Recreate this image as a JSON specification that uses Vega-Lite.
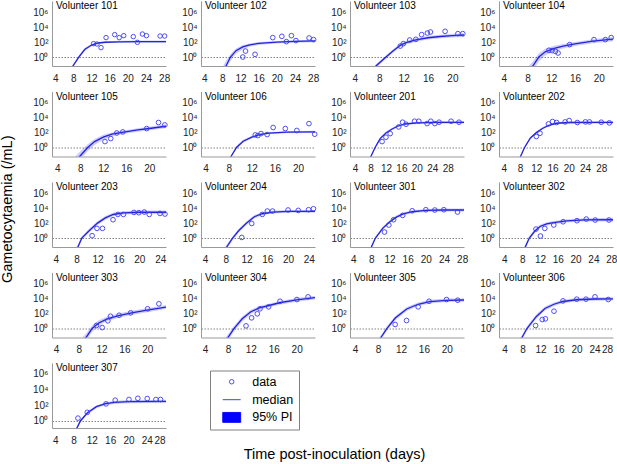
{
  "$schema": "https://vega.github.io/schema/vega-lite/v6.json",
  "padding": {"left": 0, "top": 1, "right": 2, "bottom": 1},
  "background": "white",
  "title": {"text": "Gametocytaemia (/mL)", "orient": "left", "anchor": "middle", "frame": "bounds", "fontSize": 14.5, "fontWeight": "normal", "color": "black", "offset": 17, "dx": 21.5},
  "datasets": {
    "gam": [
      {"vol":101,"day":12.45,"obs":1.79},{"vol":101,"day":13.2,"obs":1.74},{"vol":101,"day":14.1,"obs":1.26},{"vol":101,"day":15.2,"obs":2.6},{"vol":101,"day":17.1,"obs":3.0},{"vol":101,"day":18.1,"obs":2.6},{"vol":101,"day":19.1,"obs":2.86},{"vol":101,"day":21.2,"obs":2.73},{"vol":101,"day":22.1,"obs":1.97},{"vol":101,"day":23.2,"obs":3.08},{"vol":101,"day":24.1,"obs":2.86},{"vol":101,"day":27.1,"obs":2.81},{"vol":101,"day":28.1,"obs":2.81},
      {"vol":101,"day":7.3,"med":-1.75,"lo":-1.95,"hi":-1.55},{"vol":101,"day":7.9,"med":-1.2,"lo":-1.4,"hi":-1.0},{"vol":101,"day":9.2,"med":0,"lo":-0.2,"hi":0.2},{"vol":101,"day":10.5,"med":1.0,"lo":0.8,"hi":1.2},{"vol":101,"day":12,"med":1.6,"lo":1.45,"hi":1.75},{"vol":101,"day":13.5,"med":1.88,"lo":1.75,"hi":2.0},{"vol":101,"day":15,"med":1.98,"lo":1.85,"hi":2.12},{"vol":101,"day":18,"med":2.04,"lo":1.9,"hi":2.18},{"vol":101,"day":22,"med":2.06,"lo":1.92,"hi":2.2},{"vol":101,"day":28.4,"med":2.06,"lo":1.92,"hi":2.2},

      {"vol":102,"day":12.5,"obs":0.0},{"vol":102,"day":13.1,"obs":0.8},{"vol":102,"day":15.2,"obs":0.36},{"vol":102,"day":19.1,"obs":2.6},{"vol":102,"day":21.1,"obs":2.77},{"vol":102,"day":22.1,"obs":2.06},{"vol":102,"day":23.2,"obs":2.86},{"vol":102,"day":24.2,"obs":2.2},{"vol":102,"day":27.1,"obs":2.55},{"vol":102,"day":28.1,"obs":2.33},
      {"vol":102,"day":7.8,"med":-2.4,"lo":-2.9,"hi":-1.6},{"vol":102,"day":8.8,"med":-1.2,"lo":-1.6,"hi":-0.5},{"vol":102,"day":9.8,"med":0,"lo":-0.5,"hi":0.4},{"vol":102,"day":11,"med":0.85,"lo":0.45,"hi":1.15},{"vol":102,"day":12.5,"med":1.35,"lo":1.05,"hi":1.6},{"vol":102,"day":14,"med":1.62,"lo":1.38,"hi":1.82},{"vol":102,"day":16,"med":1.82,"lo":1.62,"hi":2.0},{"vol":102,"day":20,"med":2.0,"lo":1.82,"hi":2.15},{"vol":102,"day":24,"med":2.1,"lo":1.92,"hi":2.25},{"vol":102,"day":28.4,"med":2.15,"lo":1.97,"hi":2.32},

      {"vol":103,"day":11.45,"obs":1.47},{"vol":103,"day":11.95,"obs":1.79},{"vol":103,"day":13.0,"obs":2.28},{"vol":103,"day":14.0,"obs":2.37},{"vol":103,"day":14.95,"obs":3.0},{"vol":103,"day":15.9,"obs":3.21},{"vol":103,"day":16.4,"obs":3.35},{"vol":103,"day":18.8,"obs":3.44},{"vol":103,"day":20.9,"obs":3.13},{"vol":103,"day":21.7,"obs":3.13},
      {"vol":103,"day":6.8,"med":-2.1,"lo":-2.4,"hi":-1.8},{"vol":103,"day":7.45,"med":-1.2,"lo":-1.45,"hi":-0.95},{"vol":103,"day":9.1,"med":0,"lo":-0.25,"hi":0.22},{"vol":103,"day":10.3,"med":0.85,"lo":0.6,"hi":1.08},{"vol":103,"day":11.5,"med":1.6,"lo":1.35,"hi":1.82},{"vol":103,"day":12.5,"med":1.95,"lo":1.7,"hi":2.17},{"vol":103,"day":14,"med":2.3,"lo":2.05,"hi":2.52},{"vol":103,"day":16,"med":2.58,"lo":2.35,"hi":2.8},{"vol":103,"day":18,"med":2.75,"lo":2.52,"hi":2.98},{"vol":103,"day":20,"med":2.87,"lo":2.63,"hi":3.1},{"vol":103,"day":22,"med":2.95,"lo":2.7,"hi":3.18},

      {"vol":104,"day":11.6,"obs":0.9},{"vol":104,"day":12.15,"obs":0.86},{"vol":104,"day":12.7,"obs":0.76},{"vol":104,"day":13.15,"obs":0.54},{"vol":104,"day":15.1,"obs":1.66},{"vol":104,"day":19.2,"obs":2.33},{"vol":104,"day":21.1,"obs":2.33},{"vol":104,"day":22.1,"obs":2.6},
      {"vol":104,"day":8.0,"med":-2.2,"lo":-3.0,"hi":-1.4},{"vol":104,"day":8.9,"med":-1.2,"lo":-1.8,"hi":-0.6},{"vol":104,"day":9.9,"med":0,"lo":-0.6,"hi":0.5},{"vol":104,"day":11,"med":0.7,"lo":0.2,"hi":1.1},{"vol":104,"day":12.5,"med":1.15,"lo":0.8,"hi":1.5},{"vol":104,"day":14,"med":1.45,"lo":1.15,"hi":1.75},{"vol":104,"day":16,"med":1.75,"lo":1.48,"hi":2.02},{"vol":104,"day":19,"med":2.12,"lo":1.85,"hi":2.38},{"vol":104,"day":22.4,"med":2.4,"lo":2.12,"hi":2.68},

      {"vol":105,"day":12.3,"obs":0.8},{"vol":105,"day":13.3,"obs":1.2},{"vol":105,"day":14.35,"obs":1.95},{"vol":105,"day":15.4,"obs":2.09},{"vol":105,"day":19.55,"obs":2.54},{"vol":105,"day":21.6,"obs":3.35},{"vol":105,"day":22.7,"obs":3.03},
      {"vol":105,"day":7.0,"med":-2.0,"lo":-2.8,"hi":-1.3},{"vol":105,"day":7.9,"med":-1.2,"lo":-1.7,"hi":-0.6},{"vol":105,"day":9.3,"med":0,"lo":-0.5,"hi":0.45},{"vol":105,"day":10.5,"med":0.8,"lo":0.35,"hi":1.15},{"vol":105,"day":12,"med":1.4,"lo":1.05,"hi":1.7},{"vol":105,"day":13.5,"med":1.78,"lo":1.5,"hi":2.02},{"vol":105,"day":15,"med":2.0,"lo":1.75,"hi":2.22},{"vol":105,"day":18,"med":2.35,"lo":2.1,"hi":2.58},{"vol":105,"day":20,"med":2.55,"lo":2.3,"hi":2.78},{"vol":105,"day":22.9,"med":2.85,"lo":2.58,"hi":3.1},

      {"vol":106,"day":12.6,"obs":1.69},{"vol":106,"day":13.05,"obs":1.6},{"vol":106,"day":13.6,"obs":1.87},{"vol":106,"day":14.65,"obs":1.74},{"vol":106,"day":15.7,"obs":2.68},{"vol":106,"day":17.8,"obs":2.54},{"vol":106,"day":19.8,"obs":2.28},{"vol":106,"day":21.9,"obs":3.2},{"vol":106,"day":22.9,"obs":1.78},
      {"vol":106,"day":7.8,"med":-1.9,"lo":-2.05,"hi":-1.7},{"vol":106,"day":8.4,"med":-1.2,"lo":-1.35,"hi":-1.0},{"vol":106,"day":9.35,"med":0,"lo":-0.2,"hi":0.2},{"vol":106,"day":10.5,"med":0.85,"lo":0.65,"hi":1.05},{"vol":106,"day":12,"med":1.4,"lo":1.22,"hi":1.58},{"vol":106,"day":13.5,"med":1.75,"lo":1.6,"hi":1.9},{"vol":106,"day":15,"med":1.92,"lo":1.78,"hi":2.06},{"vol":106,"day":18,"med":2.05,"lo":1.9,"hi":2.18},{"vol":106,"day":22.95,"med":2.1,"lo":1.95,"hi":2.24},

      {"vol":201,"day":11.0,"obs":0.8},{"vol":201,"day":12.0,"obs":1.38},{"vol":201,"day":13.1,"obs":1.87},{"vol":201,"day":15.3,"obs":2.76},{"vol":201,"day":16.3,"obs":3.39},{"vol":201,"day":17.2,"obs":3.12},{"vol":201,"day":19.4,"obs":3.52},{"vol":201,"day":20.5,"obs":3.52},{"vol":201,"day":22.65,"obs":3.21},{"vol":201,"day":23.6,"obs":3.52},{"vol":201,"day":24.65,"obs":3.21},{"vol":201,"day":25.75,"obs":3.39},{"vol":201,"day":28.85,"obs":3.52},{"vol":201,"day":30.9,"obs":3.39},
      {"vol":201,"day":7.6,"med":-1.8,"lo":-1.95,"hi":-1.65},{"vol":201,"day":8.1,"med":-1.2,"lo":-1.35,"hi":-1.05},{"vol":201,"day":9.2,"med":0,"lo":-0.15,"hi":0.15},{"vol":201,"day":10.5,"med":1.2,"lo":1.05,"hi":1.35},{"vol":201,"day":12,"med":1.95,"lo":1.8,"hi":2.1},{"vol":201,"day":13.5,"med":2.45,"lo":2.3,"hi":2.6},{"vol":201,"day":15,"med":2.85,"lo":2.7,"hi":3.0},{"vol":201,"day":17,"med":3.15,"lo":3.0,"hi":3.3},{"vol":201,"day":20,"med":3.3,"lo":3.15,"hi":3.45},{"vol":201,"day":25,"med":3.36,"lo":3.2,"hi":3.52},{"vol":201,"day":32.2,"med":3.38,"lo":3.22,"hi":3.55},

      {"vol":202,"day":12.0,"obs":1.47},{"vol":202,"day":12.9,"obs":1.91},{"vol":202,"day":15.0,"obs":3.16},{"vol":202,"day":16.0,"obs":3.48},{"vol":202,"day":17.0,"obs":3.35},{"vol":202,"day":19.1,"obs":3.43},{"vol":202,"day":20.1,"obs":3.61},{"vol":202,"day":22.1,"obs":3.35},{"vol":202,"day":24.1,"obs":3.43},{"vol":202,"day":25.1,"obs":3.43},{"vol":202,"day":28.0,"obs":3.39},{"vol":202,"day":30.0,"obs":3.3},
      {"vol":202,"day":7.6,"med":-1.8,"lo":-1.95,"hi":-1.65},{"vol":202,"day":8.1,"med":-1.2,"lo":-1.35,"hi":-1.05},{"vol":202,"day":9.1,"med":0,"lo":-0.15,"hi":0.15},{"vol":202,"day":10.5,"med":1.25,"lo":1.1,"hi":1.4},{"vol":202,"day":12,"med":2.0,"lo":1.85,"hi":2.15},{"vol":202,"day":13.5,"med":2.55,"lo":2.4,"hi":2.7},{"vol":202,"day":15,"med":2.95,"lo":2.8,"hi":3.1},{"vol":202,"day":17,"med":3.25,"lo":3.1,"hi":3.4},{"vol":202,"day":20,"med":3.35,"lo":3.2,"hi":3.5},{"vol":202,"day":25,"med":3.36,"lo":3.2,"hi":3.52},{"vol":202,"day":30.9,"med":3.36,"lo":3.2,"hi":3.52},

      {"vol":203,"day":10.97,"obs":0.31},{"vol":203,"day":11.9,"obs":1.29},{"vol":203,"day":12.95,"obs":1.29},{"vol":203,"day":14.97,"obs":2.45},{"vol":203,"day":15.9,"obs":3.16},{"vol":203,"day":16.95,"obs":3.16},{"vol":203,"day":18.97,"obs":3.43},{"vol":203,"day":19.9,"obs":3.39},{"vol":203,"day":20.95,"obs":3.48},{"vol":203,"day":21.9,"obs":3.16},{"vol":203,"day":23.95,"obs":3.29},{"vol":203,"day":24.9,"obs":3.21},
      {"vol":203,"day":7.5,"med":-2.0,"lo":-2.4,"hi":-1.6},{"vol":203,"day":8.25,"med":-1.2,"lo":-1.5,"hi":-0.9},{"vol":203,"day":9.0,"med":0,"lo":-0.3,"hi":0.25},{"vol":203,"day":10.5,"med":1.05,"lo":0.8,"hi":1.3},{"vol":203,"day":12,"med":2.0,"lo":1.75,"hi":2.25},{"vol":203,"day":13.5,"med":2.7,"lo":2.45,"hi":2.95},{"vol":203,"day":15,"med":3.15,"lo":2.92,"hi":3.38},{"vol":203,"day":17,"med":3.38,"lo":3.15,"hi":3.6},{"vol":203,"day":20,"med":3.45,"lo":3.22,"hi":3.68},{"vol":203,"day":25.1,"med":3.45,"lo":3.2,"hi":3.7},

      {"vol":204,"day":11.07,"obs":0.08},{"vol":204,"day":12.99,"obs":1.95},{"vol":204,"day":15.03,"obs":3.16},{"vol":204,"day":16.0,"obs":3.61},{"vol":204,"day":17.0,"obs":3.61},{"vol":204,"day":20.0,"obs":3.75},{"vol":204,"day":21.97,"obs":3.7},{"vol":204,"day":23.96,"obs":3.79},{"vol":204,"day":24.9,"obs":3.92},
      {"vol":204,"day":7.4,"med":-2.0,"lo":-2.4,"hi":-1.6},{"vol":204,"day":8.15,"med":-1.2,"lo":-1.5,"hi":-0.9},{"vol":204,"day":9.3,"med":0,"lo":-0.3,"hi":0.25},{"vol":204,"day":10.5,"med":1.0,"lo":0.75,"hi":1.25},{"vol":204,"day":12,"med":2.0,"lo":1.75,"hi":2.25},{"vol":204,"day":13.5,"med":2.85,"lo":2.62,"hi":3.08},{"vol":204,"day":15,"med":3.25,"lo":3.05,"hi":3.45},{"vol":204,"day":17,"med":3.48,"lo":3.3,"hi":3.66},{"vol":204,"day":20,"med":3.56,"lo":3.38,"hi":3.74},{"vol":204,"day":25.2,"med":3.58,"lo":3.4,"hi":3.76},

      {"vol":301,"day":10.9,"obs":0.8},{"vol":301,"day":11.85,"obs":1.74},{"vol":301,"day":12.9,"obs":2.45},{"vol":301,"day":14.9,"obs":3.03},{"vol":301,"day":17.0,"obs":3.65},{"vol":301,"day":20.0,"obs":3.79},{"vol":301,"day":21.97,"obs":3.75},{"vol":301,"day":23.96,"obs":3.79},{"vol":301,"day":26.97,"obs":3.48},
      {"vol":301,"day":7.4,"med":-1.9,"lo":-2.1,"hi":-1.7},{"vol":301,"day":8.0,"med":-1.2,"lo":-1.4,"hi":-1.0},{"vol":301,"day":8.9,"med":0,"lo":-0.2,"hi":0.2},{"vol":301,"day":10.5,"med":1.3,"lo":1.1,"hi":1.5},{"vol":301,"day":12,"med":2.15,"lo":1.95,"hi":2.35},{"vol":301,"day":13.5,"med":2.8,"lo":2.6,"hi":3.0},{"vol":301,"day":15,"med":3.22,"lo":3.02,"hi":3.42},{"vol":301,"day":17,"med":3.52,"lo":3.32,"hi":3.72},{"vol":301,"day":20,"med":3.7,"lo":3.5,"hi":3.9},{"vol":301,"day":24,"med":3.75,"lo":3.55,"hi":3.95},{"vol":301,"day":28.4,"med":3.75,"lo":3.55,"hi":3.96},

      {"vol":302,"day":11.1,"obs":1.2},{"vol":302,"day":12.1,"obs":0.27},{"vol":302,"day":13.08,"obs":1.29},{"vol":302,"day":15.1,"obs":1.74},{"vol":302,"day":17.2,"obs":2.18},{"vol":302,"day":20.3,"obs":2.32},{"vol":302,"day":22.4,"obs":2.54},{"vol":302,"day":24.4,"obs":2.41},{"vol":302,"day":27.5,"obs":2.41},
      {"vol":302,"day":8.0,"med":-2.0,"lo":-2.4,"hi":-1.6},{"vol":302,"day":8.7,"med":-1.2,"lo":-1.5,"hi":-0.9},{"vol":302,"day":9.6,"med":0,"lo":-0.3,"hi":0.25},{"vol":302,"day":10.8,"med":0.9,"lo":0.65,"hi":1.15},{"vol":302,"day":12,"med":1.55,"lo":1.3,"hi":1.78},{"vol":302,"day":13.5,"med":1.88,"lo":1.65,"hi":2.1},{"vol":302,"day":15,"med":2.07,"lo":1.85,"hi":2.28},{"vol":302,"day":18,"med":2.3,"lo":2.08,"hi":2.52},{"vol":302,"day":22,"med":2.42,"lo":2.2,"hi":2.65},{"vol":302,"day":28.4,"med":2.45,"lo":2.2,"hi":2.7},

      {"vol":303,"day":11.1,"obs":0.4},{"vol":303,"day":12.1,"obs":0.13},{"vol":303,"day":13.1,"obs":1.03},{"vol":303,"day":13.56,"obs":1.65},{"vol":303,"day":15.07,"obs":1.78},{"vol":303,"day":17.1,"obs":2.1},{"vol":303,"day":20.07,"obs":2.64},{"vol":303,"day":22.05,"obs":3.31},
      {"vol":303,"day":8.4,"med":-2.0,"lo":-2.6,"hi":-1.4},{"vol":303,"day":9.27,"med":-1.2,"lo":-1.7,"hi":-0.65},{"vol":303,"day":10.33,"med":0,"lo":-0.45,"hi":0.4},{"vol":303,"day":11.5,"med":0.75,"lo":0.4,"hi":1.1},{"vol":303,"day":13,"med":1.3,"lo":1.0,"hi":1.6},{"vol":303,"day":15,"med":1.74,"lo":1.45,"hi":2.02},{"vol":303,"day":17.5,"med":2.12,"lo":1.85,"hi":2.4},{"vol":303,"day":20,"med":2.45,"lo":2.18,"hi":2.72},{"vol":303,"day":23.3,"med":2.88,"lo":2.6,"hi":3.15},

      {"vol":304,"day":11.16,"obs":0.36},{"vol":304,"day":12.13,"obs":1.43},{"vol":304,"day":13.13,"obs":1.97},{"vol":304,"day":13.6,"obs":2.64},{"vol":304,"day":15.1,"obs":2.9},{"vol":304,"day":17.1,"obs":3.65},{"vol":304,"day":20.05,"obs":3.88},{"vol":304,"day":22.0,"obs":4.24},
      {"vol":304,"day":7.2,"med":-2.0,"lo":-2.4,"hi":-1.6},{"vol":304,"day":8.0,"med":-1.2,"lo":-1.6,"hi":-0.8},{"vol":304,"day":9.05,"med":0,"lo":-0.4,"hi":0.35},{"vol":304,"day":10.5,"med":1.3,"lo":0.95,"hi":1.6},{"vol":304,"day":12,"med":2.25,"lo":1.95,"hi":2.52},{"vol":304,"day":13.5,"med":2.75,"lo":2.5,"hi":3.0},{"vol":304,"day":15,"med":3.05,"lo":2.8,"hi":3.3},{"vol":304,"day":17,"med":3.45,"lo":3.2,"hi":3.7},{"vol":304,"day":20,"med":3.85,"lo":3.6,"hi":4.1},{"vol":304,"day":23.2,"med":4.15,"lo":3.88,"hi":4.4},

      {"vol":305,"day":10.98,"obs":0.54},{"vol":305,"day":12.97,"obs":1.07},{"vol":305,"day":15.0,"obs":2.9},{"vol":305,"day":16.9,"obs":3.65},{"vol":305,"day":19.95,"obs":3.88},{"vol":305,"day":21.9,"obs":3.79},
      {"vol":305,"day":7.8,"med":-2.0,"lo":-2.4,"hi":-1.6},{"vol":305,"day":8.5,"med":-1.2,"lo":-1.5,"hi":-0.9},{"vol":305,"day":9.53,"med":0,"lo":-0.3,"hi":0.3},{"vol":305,"day":11,"med":1.4,"lo":1.1,"hi":1.68},{"vol":305,"day":13,"med":2.62,"lo":2.35,"hi":2.88},{"vol":305,"day":15,"med":3.25,"lo":3.0,"hi":3.5},{"vol":305,"day":17,"med":3.6,"lo":3.36,"hi":3.85},{"vol":305,"day":20,"med":3.78,"lo":3.55,"hi":4.02},{"vol":305,"day":23.0,"med":3.82,"lo":3.58,"hi":4.06},

      {"vol":306,"day":10.93,"obs":0.4},{"vol":306,"day":12.4,"obs":1.2},{"vol":306,"day":13.1,"obs":1.3},{"vol":306,"day":15.0,"obs":2.32},{"vol":306,"day":17.0,"obs":3.7},{"vol":306,"day":20.05,"obs":3.93},{"vol":306,"day":22.1,"obs":3.93},{"vol":306,"day":24.1,"obs":4.24},{"vol":306,"day":27.05,"obs":3.88},
      {"vol":306,"day":7.1,"med":-2.0,"lo":-2.4,"hi":-1.6},{"vol":306,"day":7.9,"med":-1.2,"lo":-1.5,"hi":-0.9},{"vol":306,"day":9.0,"med":0,"lo":-0.3,"hi":0.3},{"vol":306,"day":11,"med":1.55,"lo":1.25,"hi":1.85},{"vol":306,"day":13,"med":2.68,"lo":2.4,"hi":2.95},{"vol":306,"day":15,"med":3.25,"lo":3.0,"hi":3.5},{"vol":306,"day":17,"med":3.62,"lo":3.38,"hi":3.86},{"vol":306,"day":20,"med":3.85,"lo":3.62,"hi":4.08},{"vol":306,"day":24,"med":3.95,"lo":3.72,"hi":4.18},{"vol":306,"day":28.1,"med":3.97,"lo":3.74,"hi":4.2},

      {"vol":307,"day":8.97,"obs":0.36},{"vol":307,"day":11.0,"obs":1.1},{"vol":307,"day":15.1,"obs":2.18},{"vol":307,"day":17.1,"obs":2.65},{"vol":307,"day":20.1,"obs":2.74},{"vol":307,"day":22.05,"obs":2.89},{"vol":307,"day":24.1,"obs":2.86},{"vol":307,"day":26.0,"obs":2.74},{"vol":307,"day":27.0,"obs":2.74},
      {"vol":307,"day":8.2,"med":-1.6,"lo":-1.8,"hi":-1.4},{"vol":307,"day":8.76,"med":-0.88,"lo":-1.1,"hi":-0.65},{"vol":307,"day":9.5,"med":0,"lo":-0.2,"hi":0.2},{"vol":307,"day":11,"med":1.02,"lo":0.82,"hi":1.22},{"vol":307,"day":13,"med":1.82,"lo":1.62,"hi":2.02},{"vol":307,"day":15,"med":2.2,"lo":2.0,"hi":2.4},{"vol":307,"day":17,"med":2.38,"lo":2.18,"hi":2.58},{"vol":307,"day":20,"med":2.46,"lo":2.26,"hi":2.66},{"vol":307,"day":28.2,"med":2.5,"lo":2.3,"hi":2.7}
    ]
  },
  "data": {"name": "gam"},
  "columns": 4,
  "spacing": {"row": 25.5, "column": 35},
  "bounds": "flush",
  "concat": [
    {"title": "Volunteer 101", "width": 114, "height": 65, "transform": [{"filter": "datum.vol === 101"}],
     "encoding": {"x": {"field": "day", "type": "quantitative", "title": null, "scale": {"domain": [3.3, 28.4], "nice": false}, "axis": {"values": [4, 8, 12, 16, 20, 24, 28]}}},
     "layer": [
      {"mark": {"type": "area", "clip": true}, "encoding": {"y": {"field": "lo", "type": "quantitative", "title": null, "scale": {"domain": [-1.2, 7.5], "nice": false, "zero": false}, "axis": {"values": [0, 2, 4, 6], "labelOverlap": false, "labelExpr": "'10' + ['⁰','¹','²','³','⁴','⁵','⁶'][datum.value]", "grid": true, "gridOpacity": {"condition": {"test": "datum.value === 0", "value": 1}, "value": 0}}}, "y2": {"field": "hi"}}},
      {"mark": {"type": "line", "clip": true}, "encoding": {"y": {"field": "med", "type": "quantitative", "title": null, "scale": {"domain": [-1.2, 7.5], "nice": false, "zero": false}, "axis": {"values": [0, 2, 4, 6], "labelOverlap": false, "labelExpr": "'10' + ['⁰','¹','²','³','⁴','⁵','⁶'][datum.value]", "grid": true, "gridOpacity": {"condition": {"test": "datum.value === 0", "value": 1}, "value": 0}}}}},
      {"mark": {"type": "point", "filled": true, "strokeWidth": 0.9}, "encoding": {
        "y": {"field": "obs", "type": "quantitative", "title": null, "scale": {"domain": [-1.2, 7.5], "nice": false, "zero": false}, "axis": {"values": [0, 2, 4, 6], "labelOverlap": false, "labelExpr": "'10' + ['⁰','¹','²','³','⁴','⁵','⁶'][datum.value]", "grid": true, "gridOpacity": {"condition": {"test": "datum.value === 0", "value": 1}, "value": 0}}},
        "color": {"datum": "data", "type": "nominal", "scale": {"domain": ["data", "median", "95% PI"], "range": ["transparent", "transparent", "#0000ff"]},
          "legend": {"title": null, "orient": "none", "legendX": 158, "legendY": 369.5, "direction": "vertical", "strokeColor": "#808080", "fillColor": "white", "padding": 5, "labelFontSize": 12.5, "labelFont": "Liberation Sans", "labelColor": "black", "labelOffset": 12, "symbolOffset": 8.2, "symbolStrokeWidth": 1.3, "rowPadding": 2.7}},
        "stroke": {"datum": "data", "type": "nominal", "scale": {"domain": ["data", "median", "95% PI"], "range": ["#3c3cf0", "#2b2bf0", "#0000ff"]}},
        "shape": {"datum": "data", "type": "nominal", "scale": {"domain": ["data", "median", "95% PI"], "range": ["circle", "M-1.12,0H1.12", "M-1.12,-0.62H1.12V0.62H-1.12Z"]}},
        "size": {"datum": "data", "type": "nominal", "scale": {"type": "ordinal", "domain": ["data", "median", "95% PI"], "range": [20, 256, 256]}}
      }}
     ]},
    {"title": "Volunteer 102", "width": 114, "height": 65, "transform": [{"filter": "datum.vol === 102"}],
     "encoding": {"x": {"field": "day", "type": "quantitative", "title": null, "scale": {"domain": [3.3, 28.4], "nice": false}, "axis": {"values": [4, 8, 12, 16, 20, 24, 28]}}},
     "layer": [
      {"mark": {"type": "area", "clip": true}, "encoding": {"y": {"field": "lo", "type": "quantitative", "title": null, "scale": {"domain": [-1.2, 7.5], "nice": false, "zero": false}, "axis": {"values": [0, 2, 4, 6], "labelOverlap": false, "labelExpr": "'10' + ['⁰','¹','²','³','⁴','⁵','⁶'][datum.value]", "grid": true, "gridOpacity": {"condition": {"test": "datum.value === 0", "value": 1}, "value": 0}}}, "y2": {"field": "hi"}}},
      {"mark": {"type": "line", "clip": true}, "encoding": {"y": {"field": "med", "type": "quantitative", "title": null, "scale": {"domain": [-1.2, 7.5], "nice": false, "zero": false}, "axis": {"values": [0, 2, 4, 6], "labelOverlap": false, "labelExpr": "'10' + ['⁰','¹','²','³','⁴','⁵','⁶'][datum.value]", "grid": true, "gridOpacity": {"condition": {"test": "datum.value === 0", "value": 1}, "value": 0}}}}},
      {"mark": {"type": "point"}, "encoding": {"y": {"field": "obs", "type": "quantitative", "title": null, "scale": {"domain": [-1.2, 7.5], "nice": false, "zero": false}, "axis": {"values": [0, 2, 4, 6], "labelOverlap": false, "labelExpr": "'10' + ['⁰','¹','²','³','⁴','⁵','⁶'][datum.value]", "grid": true, "gridOpacity": {"condition": {"test": "datum.value === 0", "value": 1}, "value": 0}}}}}
     ]},
    {"title": "Volunteer 103", "width": 114, "height": 65, "transform": [{"filter": "datum.vol === 103"}],
     "encoding": {"x": {"field": "day", "type": "quantitative", "title": null, "scale": {"domain": [3.2, 21.9], "nice": false}, "axis": {"values": [4, 8, 12, 16, 20]}}},
     "layer": [
      {"mark": {"type": "area", "clip": true}, "encoding": {"y": {"field": "lo", "type": "quantitative", "title": null, "scale": {"domain": [-1.2, 7.5], "nice": false, "zero": false}, "axis": {"values": [0, 2, 4, 6], "labelOverlap": false, "labelExpr": "'10' + ['⁰','¹','²','³','⁴','⁵','⁶'][datum.value]", "grid": true, "gridOpacity": {"condition": {"test": "datum.value === 0", "value": 1}, "value": 0}}}, "y2": {"field": "hi"}}},
      {"mark": {"type": "line", "clip": true}, "encoding": {"y": {"field": "med", "type": "quantitative", "title": null, "scale": {"domain": [-1.2, 7.5], "nice": false, "zero": false}, "axis": {"values": [0, 2, 4, 6], "labelOverlap": false, "labelExpr": "'10' + ['⁰','¹','²','³','⁴','⁵','⁶'][datum.value]", "grid": true, "gridOpacity": {"condition": {"test": "datum.value === 0", "value": 1}, "value": 0}}}}},
      {"mark": {"type": "point"}, "encoding": {"y": {"field": "obs", "type": "quantitative", "title": null, "scale": {"domain": [-1.2, 7.5], "nice": false, "zero": false}, "axis": {"values": [0, 2, 4, 6], "labelOverlap": false, "labelExpr": "'10' + ['⁰','¹','²','³','⁴','⁵','⁶'][datum.value]", "grid": true, "gridOpacity": {"condition": {"test": "datum.value === 0", "value": 1}, "value": 0}}}}}
     ]},
    {"title": "Volunteer 104", "width": 114, "height": 65, "transform": [{"filter": "datum.vol === 104"}],
     "encoding": {"x": {"field": "day", "type": "quantitative", "title": null, "scale": {"domain": [3.2, 22.4], "nice": false}, "axis": {"values": [4, 8, 12, 16, 20]}}},
     "layer": [
      {"mark": {"type": "area", "clip": true}, "encoding": {"y": {"field": "lo", "type": "quantitative", "title": null, "scale": {"domain": [-1.2, 7.5], "nice": false, "zero": false}, "axis": {"values": [0, 2, 4, 6], "labelOverlap": false, "labelExpr": "'10' + ['⁰','¹','²','³','⁴','⁵','⁶'][datum.value]", "grid": true, "gridOpacity": {"condition": {"test": "datum.value === 0", "value": 1}, "value": 0}}}, "y2": {"field": "hi"}}},
      {"mark": {"type": "line", "clip": true}, "encoding": {"y": {"field": "med", "type": "quantitative", "title": null, "scale": {"domain": [-1.2, 7.5], "nice": false, "zero": false}, "axis": {"values": [0, 2, 4, 6], "labelOverlap": false, "labelExpr": "'10' + ['⁰','¹','²','³','⁴','⁵','⁶'][datum.value]", "grid": true, "gridOpacity": {"condition": {"test": "datum.value === 0", "value": 1}, "value": 0}}}}},
      {"mark": {"type": "point"}, "encoding": {"y": {"field": "obs", "type": "quantitative", "title": null, "scale": {"domain": [-1.2, 7.5], "nice": false, "zero": false}, "axis": {"values": [0, 2, 4, 6], "labelOverlap": false, "labelExpr": "'10' + ['⁰','¹','²','³','⁴','⁵','⁶'][datum.value]", "grid": true, "gridOpacity": {"condition": {"test": "datum.value === 0", "value": 1}, "value": 0}}}}}
     ]},
    {"title": "Volunteer 105", "width": 114, "height": 65, "transform": [{"filter": "datum.vol === 105"}],
     "encoding": {"x": {"field": "day", "type": "quantitative", "title": null, "scale": {"domain": [3.1, 22.9], "nice": false}, "axis": {"values": [4, 8, 12, 16, 20]}}},
     "layer": [
      {"mark": {"type": "area", "clip": true}, "encoding": {"y": {"field": "lo", "type": "quantitative", "title": null, "scale": {"domain": [-1.2, 7.5], "nice": false, "zero": false}, "axis": {"values": [0, 2, 4, 6], "labelOverlap": false, "labelExpr": "'10' + ['⁰','¹','²','³','⁴','⁵','⁶'][datum.value]", "grid": true, "gridOpacity": {"condition": {"test": "datum.value === 0", "value": 1}, "value": 0}}}, "y2": {"field": "hi"}}},
      {"mark": {"type": "line", "clip": true}, "encoding": {"y": {"field": "med", "type": "quantitative", "title": null, "scale": {"domain": [-1.2, 7.5], "nice": false, "zero": false}, "axis": {"values": [0, 2, 4, 6], "labelOverlap": false, "labelExpr": "'10' + ['⁰','¹','²','³','⁴','⁵','⁶'][datum.value]", "grid": true, "gridOpacity": {"condition": {"test": "datum.value === 0", "value": 1}, "value": 0}}}}},
      {"mark": {"type": "point"}, "encoding": {"y": {"field": "obs", "type": "quantitative", "title": null, "scale": {"domain": [-1.2, 7.5], "nice": false, "zero": false}, "axis": {"values": [0, 2, 4, 6], "labelOverlap": false, "labelExpr": "'10' + ['⁰','¹','²','³','⁴','⁵','⁶'][datum.value]", "grid": true, "gridOpacity": {"condition": {"test": "datum.value === 0", "value": 1}, "value": 0}}}}}
     ]},
    {"title": "Volunteer 106", "width": 114, "height": 65, "transform": [{"filter": "datum.vol === 106"}],
     "encoding": {"x": {"field": "day", "type": "quantitative", "title": null, "scale": {"domain": [3.2, 22.95], "nice": false}, "axis": {"values": [4, 8, 12, 16, 20]}}},
     "layer": [
      {"mark": {"type": "area", "clip": true}, "encoding": {"y": {"field": "lo", "type": "quantitative", "title": null, "scale": {"domain": [-1.2, 7.5], "nice": false, "zero": false}, "axis": {"values": [0, 2, 4, 6], "labelOverlap": false, "labelExpr": "'10' + ['⁰','¹','²','³','⁴','⁵','⁶'][datum.value]", "grid": true, "gridOpacity": {"condition": {"test": "datum.value === 0", "value": 1}, "value": 0}}}, "y2": {"field": "hi"}}},
      {"mark": {"type": "line", "clip": true}, "encoding": {"y": {"field": "med", "type": "quantitative", "title": null, "scale": {"domain": [-1.2, 7.5], "nice": false, "zero": false}, "axis": {"values": [0, 2, 4, 6], "labelOverlap": false, "labelExpr": "'10' + ['⁰','¹','²','³','⁴','⁵','⁶'][datum.value]", "grid": true, "gridOpacity": {"condition": {"test": "datum.value === 0", "value": 1}, "value": 0}}}}},
      {"mark": {"type": "point"}, "encoding": {"y": {"field": "obs", "type": "quantitative", "title": null, "scale": {"domain": [-1.2, 7.5], "nice": false, "zero": false}, "axis": {"values": [0, 2, 4, 6], "labelOverlap": false, "labelExpr": "'10' + ['⁰','¹','²','³','⁴','⁵','⁶'][datum.value]", "grid": true, "gridOpacity": {"condition": {"test": "datum.value === 0", "value": 1}, "value": 0}}}}}
     ]},
    {"title": "Volunteer 201", "width": 114, "height": 65, "transform": [{"filter": "datum.vol === 201"}],
     "encoding": {"x": {"field": "day", "type": "quantitative", "title": null, "scale": {"domain": [2.7, 32.2], "nice": false}, "axis": {"values": [4, 8, 12, 16, 20, 24, 28]}}},
     "layer": [
      {"mark": {"type": "area", "clip": true}, "encoding": {"y": {"field": "lo", "type": "quantitative", "title": null, "scale": {"domain": [-1.2, 7.5], "nice": false, "zero": false}, "axis": {"values": [0, 2, 4, 6], "labelOverlap": false, "labelExpr": "'10' + ['⁰','¹','²','³','⁴','⁵','⁶'][datum.value]", "grid": true, "gridOpacity": {"condition": {"test": "datum.value === 0", "value": 1}, "value": 0}}}, "y2": {"field": "hi"}}},
      {"mark": {"type": "line", "clip": true}, "encoding": {"y": {"field": "med", "type": "quantitative", "title": null, "scale": {"domain": [-1.2, 7.5], "nice": false, "zero": false}, "axis": {"values": [0, 2, 4, 6], "labelOverlap": false, "labelExpr": "'10' + ['⁰','¹','²','³','⁴','⁵','⁶'][datum.value]", "grid": true, "gridOpacity": {"condition": {"test": "datum.value === 0", "value": 1}, "value": 0}}}}},
      {"mark": {"type": "point"}, "encoding": {"y": {"field": "obs", "type": "quantitative", "title": null, "scale": {"domain": [-1.2, 7.5], "nice": false, "zero": false}, "axis": {"values": [0, 2, 4, 6], "labelOverlap": false, "labelExpr": "'10' + ['⁰','¹','²','³','⁴','⁵','⁶'][datum.value]", "grid": true, "gridOpacity": {"condition": {"test": "datum.value === 0", "value": 1}, "value": 0}}}}}
     ]},
    {"title": "Volunteer 202", "width": 114, "height": 65, "transform": [{"filter": "datum.vol === 202"}],
     "encoding": {"x": {"field": "day", "type": "quantitative", "title": null, "scale": {"domain": [2.8, 30.9], "nice": false}, "axis": {"values": [4, 8, 12, 16, 20, 24, 28]}}},
     "layer": [
      {"mark": {"type": "area", "clip": true}, "encoding": {"y": {"field": "lo", "type": "quantitative", "title": null, "scale": {"domain": [-1.2, 7.5], "nice": false, "zero": false}, "axis": {"values": [0, 2, 4, 6], "labelOverlap": false, "labelExpr": "'10' + ['⁰','¹','²','³','⁴','⁵','⁶'][datum.value]", "grid": true, "gridOpacity": {"condition": {"test": "datum.value === 0", "value": 1}, "value": 0}}}, "y2": {"field": "hi"}}},
      {"mark": {"type": "line", "clip": true}, "encoding": {"y": {"field": "med", "type": "quantitative", "title": null, "scale": {"domain": [-1.2, 7.5], "nice": false, "zero": false}, "axis": {"values": [0, 2, 4, 6], "labelOverlap": false, "labelExpr": "'10' + ['⁰','¹','²','³','⁴','⁵','⁶'][datum.value]", "grid": true, "gridOpacity": {"condition": {"test": "datum.value === 0", "value": 1}, "value": 0}}}}},
      {"mark": {"type": "point"}, "encoding": {"y": {"field": "obs", "type": "quantitative", "title": null, "scale": {"domain": [-1.2, 7.5], "nice": false, "zero": false}, "axis": {"values": [0, 2, 4, 6], "labelOverlap": false, "labelExpr": "'10' + ['⁰','¹','²','³','⁴','⁵','⁶'][datum.value]", "grid": true, "gridOpacity": {"condition": {"test": "datum.value === 0", "value": 1}, "value": 0}}}}}
     ]},
    {"title": "Volunteer 203", "width": 114, "height": 65, "transform": [{"filter": "datum.vol === 203"}],
     "encoding": {"x": {"field": "day", "type": "quantitative", "title": null, "scale": {"domain": [3.3, 25.1], "nice": false}, "axis": {"values": [4, 8, 12, 16, 20, 24]}}},
     "layer": [
      {"mark": {"type": "area", "clip": true}, "encoding": {"y": {"field": "lo", "type": "quantitative", "title": null, "scale": {"domain": [-1.2, 7.5], "nice": false, "zero": false}, "axis": {"values": [0, 2, 4, 6], "labelOverlap": false, "labelExpr": "'10' + ['⁰','¹','²','³','⁴','⁵','⁶'][datum.value]", "grid": true, "gridOpacity": {"condition": {"test": "datum.value === 0", "value": 1}, "value": 0}}}, "y2": {"field": "hi"}}},
      {"mark": {"type": "line", "clip": true}, "encoding": {"y": {"field": "med", "type": "quantitative", "title": null, "scale": {"domain": [-1.2, 7.5], "nice": false, "zero": false}, "axis": {"values": [0, 2, 4, 6], "labelOverlap": false, "labelExpr": "'10' + ['⁰','¹','²','³','⁴','⁵','⁶'][datum.value]", "grid": true, "gridOpacity": {"condition": {"test": "datum.value === 0", "value": 1}, "value": 0}}}}},
      {"mark": {"type": "point"}, "encoding": {"y": {"field": "obs", "type": "quantitative", "title": null, "scale": {"domain": [-1.2, 7.5], "nice": false, "zero": false}, "axis": {"values": [0, 2, 4, 6], "labelOverlap": false, "labelExpr": "'10' + ['⁰','¹','²','³','⁴','⁵','⁶'][datum.value]", "grid": true, "gridOpacity": {"condition": {"test": "datum.value === 0", "value": 1}, "value": 0}}}}}
     ]},
    {"title": "Volunteer 204", "width": 114, "height": 65, "transform": [{"filter": "datum.vol === 204"}],
     "encoding": {"x": {"field": "day", "type": "quantitative", "title": null, "scale": {"domain": [3.2, 25.2], "nice": false}, "axis": {"values": [4, 8, 12, 16, 20, 24]}}},
     "layer": [
      {"mark": {"type": "area", "clip": true}, "encoding": {"y": {"field": "lo", "type": "quantitative", "title": null, "scale": {"domain": [-1.2, 7.5], "nice": false, "zero": false}, "axis": {"values": [0, 2, 4, 6], "labelOverlap": false, "labelExpr": "'10' + ['⁰','¹','²','³','⁴','⁵','⁶'][datum.value]", "grid": true, "gridOpacity": {"condition": {"test": "datum.value === 0", "value": 1}, "value": 0}}}, "y2": {"field": "hi"}}},
      {"mark": {"type": "line", "clip": true}, "encoding": {"y": {"field": "med", "type": "quantitative", "title": null, "scale": {"domain": [-1.2, 7.5], "nice": false, "zero": false}, "axis": {"values": [0, 2, 4, 6], "labelOverlap": false, "labelExpr": "'10' + ['⁰','¹','²','³','⁴','⁵','⁶'][datum.value]", "grid": true, "gridOpacity": {"condition": {"test": "datum.value === 0", "value": 1}, "value": 0}}}}},
      {"mark": {"type": "point"}, "encoding": {"y": {"field": "obs", "type": "quantitative", "title": null, "scale": {"domain": [-1.2, 7.5], "nice": false, "zero": false}, "axis": {"values": [0, 2, 4, 6], "labelOverlap": false, "labelExpr": "'10' + ['⁰','¹','²','³','⁴','⁵','⁶'][datum.value]", "grid": true, "gridOpacity": {"condition": {"test": "datum.value === 0", "value": 1}, "value": 0}}}}}
     ]},
    {"title": "Volunteer 301", "width": 114, "height": 65, "transform": [{"filter": "datum.vol === 301"}],
     "encoding": {"x": {"field": "day", "type": "quantitative", "title": null, "scale": {"domain": [3.3, 28.4], "nice": false}, "axis": {"values": [4, 8, 12, 16, 20, 24, 28]}}},
     "layer": [
      {"mark": {"type": "area", "clip": true}, "encoding": {"y": {"field": "lo", "type": "quantitative", "title": null, "scale": {"domain": [-1.2, 7.5], "nice": false, "zero": false}, "axis": {"values": [0, 2, 4, 6], "labelOverlap": false, "labelExpr": "'10' + ['⁰','¹','²','³','⁴','⁵','⁶'][datum.value]", "grid": true, "gridOpacity": {"condition": {"test": "datum.value === 0", "value": 1}, "value": 0}}}, "y2": {"field": "hi"}}},
      {"mark": {"type": "line", "clip": true}, "encoding": {"y": {"field": "med", "type": "quantitative", "title": null, "scale": {"domain": [-1.2, 7.5], "nice": false, "zero": false}, "axis": {"values": [0, 2, 4, 6], "labelOverlap": false, "labelExpr": "'10' + ['⁰','¹','²','³','⁴','⁵','⁶'][datum.value]", "grid": true, "gridOpacity": {"condition": {"test": "datum.value === 0", "value": 1}, "value": 0}}}}},
      {"mark": {"type": "point"}, "encoding": {"y": {"field": "obs", "type": "quantitative", "title": null, "scale": {"domain": [-1.2, 7.5], "nice": false, "zero": false}, "axis": {"values": [0, 2, 4, 6], "labelOverlap": false, "labelExpr": "'10' + ['⁰','¹','²','³','⁴','⁵','⁶'][datum.value]", "grid": true, "gridOpacity": {"condition": {"test": "datum.value === 0", "value": 1}, "value": 0}}}}}
     ]},
    {"title": "Volunteer 302", "width": 114, "height": 65, "transform": [{"filter": "datum.vol === 302"}],
     "encoding": {"x": {"field": "day", "type": "quantitative", "title": null, "scale": {"domain": [2.8, 28.4], "nice": false}, "axis": {"values": [4, 8, 12, 16, 20, 24, 28]}}},
     "layer": [
      {"mark": {"type": "area", "clip": true}, "encoding": {"y": {"field": "lo", "type": "quantitative", "title": null, "scale": {"domain": [-1.2, 7.5], "nice": false, "zero": false}, "axis": {"values": [0, 2, 4, 6], "labelOverlap": false, "labelExpr": "'10' + ['⁰','¹','²','³','⁴','⁵','⁶'][datum.value]", "grid": true, "gridOpacity": {"condition": {"test": "datum.value === 0", "value": 1}, "value": 0}}}, "y2": {"field": "hi"}}},
      {"mark": {"type": "line", "clip": true}, "encoding": {"y": {"field": "med", "type": "quantitative", "title": null, "scale": {"domain": [-1.2, 7.5], "nice": false, "zero": false}, "axis": {"values": [0, 2, 4, 6], "labelOverlap": false, "labelExpr": "'10' + ['⁰','¹','²','³','⁴','⁵','⁶'][datum.value]", "grid": true, "gridOpacity": {"condition": {"test": "datum.value === 0", "value": 1}, "value": 0}}}}},
      {"mark": {"type": "point"}, "encoding": {"y": {"field": "obs", "type": "quantitative", "title": null, "scale": {"domain": [-1.2, 7.5], "nice": false, "zero": false}, "axis": {"values": [0, 2, 4, 6], "labelOverlap": false, "labelExpr": "'10' + ['⁰','¹','²','³','⁴','⁵','⁶'][datum.value]", "grid": true, "gridOpacity": {"condition": {"test": "datum.value === 0", "value": 1}, "value": 0}}}}}
     ]},
    {"title": "Volunteer 303", "width": 114, "height": 65, "transform": [{"filter": "datum.vol === 303"}],
     "encoding": {"x": {"field": "day", "type": "quantitative", "title": null, "scale": {"domain": [3.3, 23.3], "nice": false}, "axis": {"values": [4, 8, 12, 16, 20]}}},
     "layer": [
      {"mark": {"type": "area", "clip": true}, "encoding": {"y": {"field": "lo", "type": "quantitative", "title": null, "scale": {"domain": [-1.2, 7.5], "nice": false, "zero": false}, "axis": {"values": [0, 2, 4, 6], "labelOverlap": false, "labelExpr": "'10' + ['⁰','¹','²','³','⁴','⁵','⁶'][datum.value]", "grid": true, "gridOpacity": {"condition": {"test": "datum.value === 0", "value": 1}, "value": 0}}}, "y2": {"field": "hi"}}},
      {"mark": {"type": "line", "clip": true}, "encoding": {"y": {"field": "med", "type": "quantitative", "title": null, "scale": {"domain": [-1.2, 7.5], "nice": false, "zero": false}, "axis": {"values": [0, 2, 4, 6], "labelOverlap": false, "labelExpr": "'10' + ['⁰','¹','²','³','⁴','⁵','⁶'][datum.value]", "grid": true, "gridOpacity": {"condition": {"test": "datum.value === 0", "value": 1}, "value": 0}}}}},
      {"mark": {"type": "point"}, "encoding": {"y": {"field": "obs", "type": "quantitative", "title": null, "scale": {"domain": [-1.2, 7.5], "nice": false, "zero": false}, "axis": {"values": [0, 2, 4, 6], "labelOverlap": false, "labelExpr": "'10' + ['⁰','¹','²','³','⁴','⁵','⁶'][datum.value]", "grid": true, "gridOpacity": {"condition": {"test": "datum.value === 0", "value": 1}, "value": 0}}}}}
     ]},
    {"title": "Volunteer 304", "width": 114, "height": 65, "transform": [{"filter": "datum.vol === 304"}],
     "encoding": {"x": {"field": "day", "type": "quantitative", "title": null, "scale": {"domain": [3.3, 23.2], "nice": false}, "axis": {"values": [4, 8, 12, 16, 20]}}},
     "layer": [
      {"mark": {"type": "area", "clip": true}, "encoding": {"y": {"field": "lo", "type": "quantitative", "title": null, "scale": {"domain": [-1.2, 7.5], "nice": false, "zero": false}, "axis": {"values": [0, 2, 4, 6], "labelOverlap": false, "labelExpr": "'10' + ['⁰','¹','²','³','⁴','⁵','⁶'][datum.value]", "grid": true, "gridOpacity": {"condition": {"test": "datum.value === 0", "value": 1}, "value": 0}}}, "y2": {"field": "hi"}}},
      {"mark": {"type": "line", "clip": true}, "encoding": {"y": {"field": "med", "type": "quantitative", "title": null, "scale": {"domain": [-1.2, 7.5], "nice": false, "zero": false}, "axis": {"values": [0, 2, 4, 6], "labelOverlap": false, "labelExpr": "'10' + ['⁰','¹','²','³','⁴','⁵','⁶'][datum.value]", "grid": true, "gridOpacity": {"condition": {"test": "datum.value === 0", "value": 1}, "value": 0}}}}},
      {"mark": {"type": "point"}, "encoding": {"y": {"field": "obs", "type": "quantitative", "title": null, "scale": {"domain": [-1.2, 7.5], "nice": false, "zero": false}, "axis": {"values": [0, 2, 4, 6], "labelOverlap": false, "labelExpr": "'10' + ['⁰','¹','²','³','⁴','⁵','⁶'][datum.value]", "grid": true, "gridOpacity": {"condition": {"test": "datum.value === 0", "value": 1}, "value": 0}}}}}
     ]},
    {"title": "Volunteer 305", "width": 114, "height": 65, "transform": [{"filter": "datum.vol === 305"}],
     "encoding": {"x": {"field": "day", "type": "quantitative", "title": null, "scale": {"domain": [3.1, 23.0], "nice": false}, "axis": {"values": [4, 8, 12, 16, 20]}}},
     "layer": [
      {"mark": {"type": "area", "clip": true}, "encoding": {"y": {"field": "lo", "type": "quantitative", "title": null, "scale": {"domain": [-1.2, 7.5], "nice": false, "zero": false}, "axis": {"values": [0, 2, 4, 6], "labelOverlap": false, "labelExpr": "'10' + ['⁰','¹','²','³','⁴','⁵','⁶'][datum.value]", "grid": true, "gridOpacity": {"condition": {"test": "datum.value === 0", "value": 1}, "value": 0}}}, "y2": {"field": "hi"}}},
      {"mark": {"type": "line", "clip": true}, "encoding": {"y": {"field": "med", "type": "quantitative", "title": null, "scale": {"domain": [-1.2, 7.5], "nice": false, "zero": false}, "axis": {"values": [0, 2, 4, 6], "labelOverlap": false, "labelExpr": "'10' + ['⁰','¹','²','³','⁴','⁵','⁶'][datum.value]", "grid": true, "gridOpacity": {"condition": {"test": "datum.value === 0", "value": 1}, "value": 0}}}}},
      {"mark": {"type": "point"}, "encoding": {"y": {"field": "obs", "type": "quantitative", "title": null, "scale": {"domain": [-1.2, 7.5], "nice": false, "zero": false}, "axis": {"values": [0, 2, 4, 6], "labelOverlap": false, "labelExpr": "'10' + ['⁰','¹','²','³','⁴','⁵','⁶'][datum.value]", "grid": true, "gridOpacity": {"condition": {"test": "datum.value === 0", "value": 1}, "value": 0}}}}}
     ]},
    {"title": "Volunteer 306", "width": 114, "height": 65, "transform": [{"filter": "datum.vol === 306"}],
     "encoding": {"x": {"field": "day", "type": "quantitative", "title": null, "scale": {"domain": [2.8, 28.1], "nice": false}, "axis": {"values": [4, 8, 12, 16, 20, 24, 28]}}},
     "layer": [
      {"mark": {"type": "area", "clip": true}, "encoding": {"y": {"field": "lo", "type": "quantitative", "title": null, "scale": {"domain": [-1.2, 7.5], "nice": false, "zero": false}, "axis": {"values": [0, 2, 4, 6], "labelOverlap": false, "labelExpr": "'10' + ['⁰','¹','²','³','⁴','⁵','⁶'][datum.value]", "grid": true, "gridOpacity": {"condition": {"test": "datum.value === 0", "value": 1}, "value": 0}}}, "y2": {"field": "hi"}}},
      {"mark": {"type": "line", "clip": true}, "encoding": {"y": {"field": "med", "type": "quantitative", "title": null, "scale": {"domain": [-1.2, 7.5], "nice": false, "zero": false}, "axis": {"values": [0, 2, 4, 6], "labelOverlap": false, "labelExpr": "'10' + ['⁰','¹','²','³','⁴','⁵','⁶'][datum.value]", "grid": true, "gridOpacity": {"condition": {"test": "datum.value === 0", "value": 1}, "value": 0}}}}},
      {"mark": {"type": "point"}, "encoding": {"y": {"field": "obs", "type": "quantitative", "title": null, "scale": {"domain": [-1.2, 7.5], "nice": false, "zero": false}, "axis": {"values": [0, 2, 4, 6], "labelOverlap": false, "labelExpr": "'10' + ['⁰','¹','²','³','⁴','⁵','⁶'][datum.value]", "grid": true, "gridOpacity": {"condition": {"test": "datum.value === 0", "value": 1}, "value": 0}}}}}
     ]},
    {"title": "Volunteer 307", "width": 114, "height": 65, "transform": [{"filter": "datum.vol === 307"}],
     "encoding": {"x": {"field": "day", "type": "quantitative", "title": "Time post-inoculation (days)", "scale": {"domain": [3.3, 28.2], "nice": false}, "axis": {"values": [4, 8, 12, 16, 20, 24, 28], "titleX": 282, "titleY": 19, "titleAlign": "center", "titleBaseline": "top", "titleFontSize": 14.5, "titleFontWeight": "normal", "titleColor": "black"}}},
     "layer": [
      {"mark": {"type": "area", "clip": true}, "encoding": {"y": {"field": "lo", "type": "quantitative", "title": null, "scale": {"domain": [-0.9, 7.4], "nice": false, "zero": false}, "axis": {"values": [0, 2, 4, 6], "labelOverlap": false, "labelExpr": "'10' + ['⁰','¹','²','³','⁴','⁵','⁶'][datum.value]", "grid": true, "gridOpacity": {"condition": {"test": "datum.value === 0", "value": 1}, "value": 0}}}, "y2": {"field": "hi"}}},
      {"mark": {"type": "line", "clip": true}, "encoding": {"y": {"field": "med", "type": "quantitative", "title": null, "scale": {"domain": [-0.9, 7.4], "nice": false, "zero": false}, "axis": {"values": [0, 2, 4, 6], "labelOverlap": false, "labelExpr": "'10' + ['⁰','¹','²','³','⁴','⁵','⁶'][datum.value]", "grid": true, "gridOpacity": {"condition": {"test": "datum.value === 0", "value": 1}, "value": 0}}}}},
      {"mark": {"type": "point"}, "encoding": {"y": {"field": "obs", "type": "quantitative", "title": null, "scale": {"domain": [-0.9, 7.4], "nice": false, "zero": false}, "axis": {"values": [0, 2, 4, 6], "labelOverlap": false, "labelExpr": "'10' + ['⁰','¹','²','³','⁴','⁵','⁶'][datum.value]", "grid": true, "gridOpacity": {"condition": {"test": "datum.value === 0", "value": 1}, "value": 0}}}}}
     ]}
  ],
  "config": {
    "font": "Liberation Sans",
    "view": {"stroke": null},
    "mark": {"invalid": "filter"},
    "area": {"color": "#0000ff", "opacity": 0.2},
    "line": {"color": "#2323d8", "strokeWidth": 1.3},
    "point": {"filled": false, "size": 22, "strokeWidth": 0.9, "color": "#3c3cf0", "opacity": 1},
    "axis": {"domainColor": "#999999", "ticks": false, "labelFontSize": 10, "labelColor": "#222222", "labelFont": "Liberation Sans", "grid": false},
    "axisX": {"labelPadding": 7},
    "axisY": {"labelPadding": 4, "gridColor": "#666666", "gridDash": [1.5, 1.5], "gridWidth": 0.8},
    "title": {"fontSize": 10, "fontWeight": "normal", "anchor": "start", "frame": "group", "color": "black", "offset": -10, "dx": 4, "baseline": "alphabetic"}
  }
}
